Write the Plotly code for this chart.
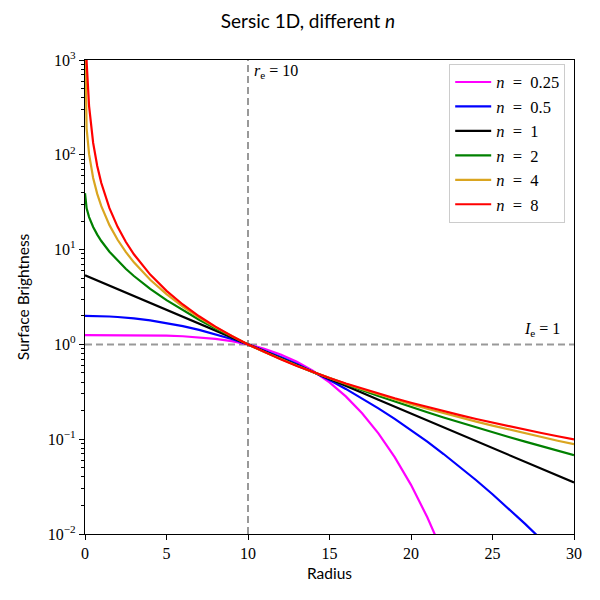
import math
import plotly.graph_objects as go

# Radius grid (shared by all curves)
radius = [0, 0.05, 0.1, 0.25, 0.5, 0.75, 1, 1.5, 2, 2.5, 3, 4, 5, 6, 7, 8, 9, 10,
          11, 12, 13, 14, 15, 16, 17, 18, 19, 20, 21, 22, 23, 24, 25, 26, 27, 28, 29, 30]

I_n025 = [1.2555, 1.2555, 1.2555, 1.2555, 1.2555, 1.2555, 1.2555, 1.2555, 1.2550, 1.2543,
          1.2532, 1.2482, 1.2377, 1.2190, 1.1887, 1.1438, 1.0814, 1.0,
          0.8998, 0.7833, 0.6556, 0.5239, 0.3968, 0.2827, 0.1877, 0.1152, 0.0647, 0.0330,
          0.01504, 0.00608, 0.00216, None, None, None, None, None, None, None]
I_n05 = [2.0, 2.0, 2.0, 1.9999, 1.9965, 1.9922, 1.986, 1.969, 1.945, 1.915,
         1.879, 1.790, 1.682, 1.558, 1.424, 1.283, 1.141, 1.0,
         0.8645, 0.7371, 0.6199, 0.5141, 0.4204, 0.3392, 0.2698, 0.2117, 0.1638, 0.125,
         0.0941, 0.0698, 0.0511, 0.0369, 0.02627, 0.01845, 0.01278, 0.00873, 0.00588, 0.0039]
I_n1 = [5.3562, 5.3114, 5.267, 5.136, 4.925, 4.723, 4.5287, 4.164, 3.8290, 3.521,
        3.2374, 2.7372, 2.3143, 1.9567, 1.6544, 1.3988, 1.1827, 1.0,
        0.8455, 0.7149, 0.6044, 0.5110, 0.4321, 0.3653, 0.3089, 0.2612, 0.2208, 0.1867,
        0.1579, 0.1335, 0.1128, 0.0954, 0.0807, 0.0682, 0.0577, 0.0488, 0.0412, 0.0349]
I_n2 = [39.33, 30.34, 27.25, 22.01, 17.30, 14.39, 12.32, 9.487, 7.614, 6.272,
        5.264, 3.856, 2.932, 2.288, 1.822, 1.473, 1.207, 1.0,
        0.8359, 0.7044, 0.5977, 0.5103, 0.4381, 0.3780, 0.3277, 0.2852, 0.2492, 0.2185,
        0.1922, 0.1696, 0.1500, 0.1331, 0.1184, 0.1055, 0.0942, 0.0844, 0.0757, 0.0680]
I_n4 = [2141.5, 278.6, 189.4, 101.5, 56.98, 38.70, 28.69, 18.11, 12.69, 9.452,
        7.340, 4.808, 3.388, 2.508, 1.924, 1.516, 1.221, 1.0,
        0.8312, 0.6993, 0.5947, 0.5102, 0.4412, 0.3843, 0.3369, 0.2970, 0.2632, 0.2343,
        0.2095, 0.1881, 0.1694, 0.1531, 0.1389, 0.1263, 0.1151, 0.1052, 0.0964, 0.0886]
I_n8 = [6.4e6, 1968.0, 951.8, 326.7, 133.56, 76.29, 50.37, 27.34, 17.39, 12.10,
        8.931, 5.451, 3.671, 2.637, 1.980, 1.539, 1.2275, 1.0,
        0.8288, 0.6967, 0.5931, 0.5101, 0.4428, 0.3874, 0.3414, 0.3028, 0.2701, 0.2421,
        0.2181, 0.1973, 0.1792, 0.1633, 0.1493, 0.1370, 0.1260, 0.1162, 0.1075, 0.0996]

series_labels = ["0.25", "0.5", "1", "2", "4", "8"]
series_values = [I_n025, I_n05, I_n1, I_n2, I_n4, I_n8]
series_colors = ["#FF00FF", "#0000FF", "#000000", "#008000", "#DAA520", "#FF0000"]

r_e = 10
I_e = 1

x_ticks = [0, 5, 10, 15, 20, 25, 30]
y_ticks = [0.01, 0.1, 1, 10, 100, 1000]
y_ticktext = ["10<sup>−2</sup>", "10<sup>−1</sup>", "10<sup>0</sup>",
              "10<sup>1</sup>", "10<sup>2</sup>", "10<sup>3</sup>"]

SERIF = "Liberation Serif, DejaVu Serif, serif"
SANS = "Lato, DejaVu Sans, sans-serif"

fig = go.Figure()
for i, (lab, vals, col) in enumerate(zip(series_labels, series_values, series_colors)):
    fig.add_trace(go.Scatter(
        x=radius, y=vals, mode="lines",
        name=f"<i>n</i>  =  {lab}",
        line=dict(color=col, width=2.2),
        connectgaps=False,
    ))

dash_line = dict(color="#999999", width=2, dash="7px,4px")
fig.add_vline(x=r_e, line=dash_line, layer="below")
fig.add_hline(y=I_e, line=dash_line, layer="below")

fig.add_annotation(x=r_e, y=1, xref="x", yref="paper",
                   text="<i>r</i><sub>e</sub> = 10", showarrow=False,
                   xanchor="left", yanchor="top", xshift=4, yshift=0,
                   font=dict(family=SERIF, size=16, color="black"))
fig.add_annotation(x=1, y=math.log10(I_e), xref="paper", yref="y",
                   text="<i>I</i><sub>e</sub> = 1", showarrow=False,
                   xanchor="right", yanchor="bottom", xshift=-12, yshift=3,
                   font=dict(family=SERIF, size=16, color="black"))

fig.update_layout(
    width=600, height=600,
    margin=dict(l=77, r=34, t=52, b=74),
    paper_bgcolor="white", plot_bgcolor="white",
    title=dict(text="Sersic 1D, different <i>n</i>", x=0.5, xanchor="center",
               y=0.978, yanchor="middle",
               font=dict(family=SANS, size=19, color="black")),
    showlegend=True,
    legend=dict(x=0.982, y=0.992, xanchor="right", yanchor="top",
                bgcolor="rgba(255,255,255,0.85)", bordercolor="#cccccc", borderwidth=1,
                font=dict(family=SERIF, size=16.5, color="black"),
                tracegroupgap=0, itemwidth=36),
    xaxis=dict(range=[0, 30], tickvals=x_ticks, ticktext=[str(v) for v in x_ticks],
               showgrid=False, zeroline=False, showline=True, linecolor="black",
               linewidth=1.3, mirror=True, ticks="outside", ticklen=5, tickwidth=1,
               tickcolor="black", tickfont=dict(family=SERIF, size=16, color="black"),
               title=dict(text="Radius", font=dict(family=SANS, size=15.5, color="black"),
                          standoff=6)),
    yaxis=dict(type="log", range=[-2, 3], tickvals=y_ticks, ticktext=y_ticktext,
               showgrid=False, zeroline=False, showline=True, linecolor="black",
               linewidth=1.3, mirror=True, ticks="outside", ticklen=5, tickwidth=1,
               tickcolor="black", tickfont=dict(family=SERIF, size=16, color="black"),
               minor=dict(ticks="outside", ticklen=3, tickwidth=0.8, tickcolor="black",
                          dtick="D1", showgrid=False),
               title=dict(text="Surface Brightness",
                          font=dict(family=SANS, size=15.5, color="black"), standoff=14)),
)

fig.write_html("out.html")
